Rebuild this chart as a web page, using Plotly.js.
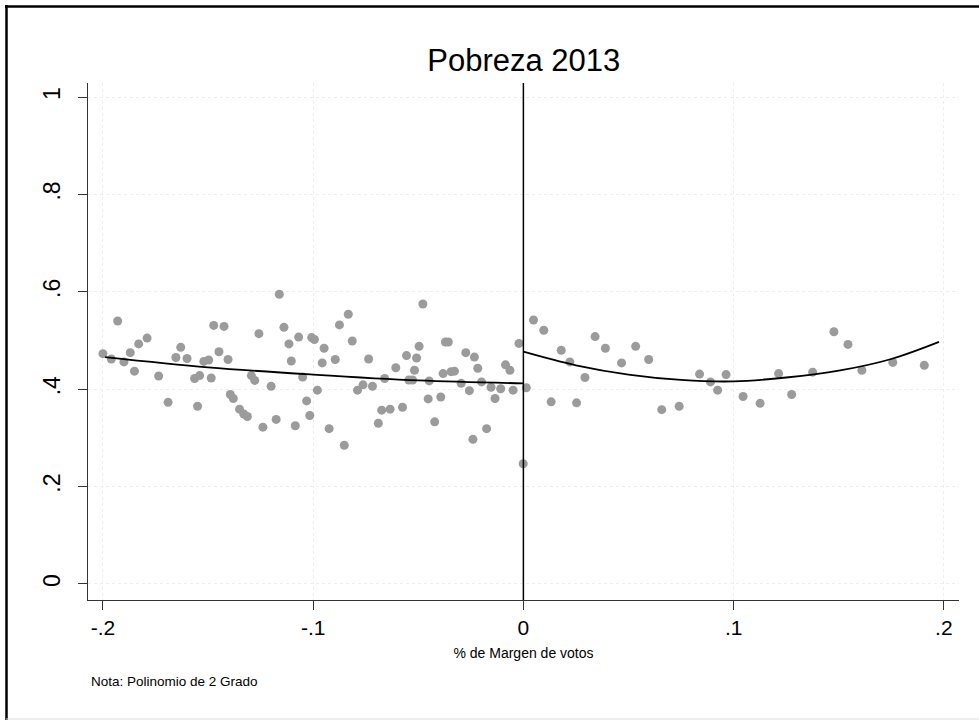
<!DOCTYPE html>
<html>
<head>
<meta charset="utf-8">
<script src="https://cdn.plot.ly/plotly-3.0.1.min.js"></script>
<style>
html,body{margin:0;padding:0;background:#fff;}
#chart{width:979px;height:722px;}
</style>
</head>
<body>
<div id="chart"></div>
<script>
// ---- data ----
const cutoff = 0;

const leftX = [-0.200,-0.193,-0.196,-0.190,-0.187,-0.185,-0.183,-0.179,-0.1735,-0.169,
  -0.1653,-0.163,-0.160,-0.1564,-0.154,-0.155,-0.152,-0.1497,-0.1485,-0.1473,
  -0.1448,-0.1424,-0.1405,-0.1394,-0.138,-0.135,-0.133,-0.1313,-0.1294,-0.1278,
  -0.1258,-0.1239,-0.120,-0.1176,-0.1161,-0.1139,-0.1115,-0.1104,-0.1085,-0.1069,
  -0.105,-0.1031,-0.1016,-0.098,-0.1007,-0.0994,-0.0948,-0.0957,-0.0924,-0.0895,
  -0.0875,-0.0852,-0.0833,-0.0814,-0.0789,-0.0763,-0.0736,-0.0718,-0.069,-0.0674,
  -0.066,-0.0634,-0.0607,-0.0575,-0.0556,-0.0545,-0.0527,-0.0518,-0.0508,-0.0496,
  -0.0478,-0.0453,-0.0448,-0.0422,-0.0393,-0.0382,-0.0371,-0.0357,-0.0344,-0.0328,
  -0.0296,-0.0274,-0.0257,-0.024,-0.0233,-0.0217,-0.0199,-0.0175,-0.0154,-0.0135,
  -0.0108,-0.0085,-0.0064,-0.0049,-0.0021,-0.0001];
const leftY = [0.473,0.540,0.462,0.456,0.475,0.437,0.493,0.505,0.427,0.373,
  0.465,0.486,0.463,0.422,0.428,0.365,0.457,0.460,0.423,0.531,
  0.477,0.529,0.461,0.389,0.381,0.359,0.349,0.344,0.428,0.418,
  0.514,0.322,0.406,0.338,0.595,0.527,0.493,0.458,0.325,0.507,
  0.425,0.376,0.346,0.398,0.506,0.502,0.484,0.454,0.319,0.461,
  0.532,0.285,0.554,0.499,0.398,0.409,0.462,0.406,0.330,0.357,
  0.422,0.359,0.444,0.363,0.469,0.419,0.419,0.439,0.464,0.488,
  0.575,0.380,0.417,0.333,0.384,0.432,0.497,0.497,0.436,0.437,
  0.412,0.475,0.397,0.297,0.466,0.443,0.415,0.319,0.404,0.381,
  0.401,0.450,0.439,0.398,0.494,0.247];

const rightX = [0.0014,0.0048,0.0097,0.0132,0.018,0.0221,0.0253,0.0293,0.0341,0.039,
  0.0467,0.0534,0.0596,0.0658,0.0741,0.0838,0.089,0.0924,0.0964,0.1045,
  0.1126,0.1214,0.1276,0.1376,0.1477,0.1544,0.161,0.1757,0.1907];
const rightY = [0.403,0.542,0.521,0.374,0.480,0.456,0.372,0.424,0.508,0.484,
  0.454,0.488,0.461,0.358,0.365,0.431,0.415,0.398,0.430,0.385,
  0.371,0.432,0.389,0.435,0.518,0.492,0.439,0.455,0.449];

// fitted 2nd-degree polynomial curves
const leftFitX = [-0.199,-0.15,-0.1,-0.05,0];
const leftFitY = [0.466,0.445,0.430,0.418,0.412];
const rightFitX = [0,0.025,0.05,0.075,0.1,0.125,0.15,0.175,0.1977];
const rightFitY = [0.477,0.449,0.430,0.419,0.416,0.424,0.438,0.462,0.497];

const xTickVals = [-0.2,-0.1,0,0.1,0.2];
const xTickText = ['-.2','-.1','0','.1','.2'];
const yTickVals = [0,0.2,0.4,0.6,0.8,1];
const yTickText = ['0','.2','.4','.6','.8','1'];

const titleText = 'Pobreza 2013';
const xTitle = '% de Margen de votos';
const noteText = 'Nota: Polinomio de 2 Grado';

// ---- chart ----
const FONT = 'Liberation Sans, Arial, Helvetica, sans-serif';
const dotColor = '#9b9b9b';

const traces = [
  {x:leftX, y:leftY, type:'scatter', mode:'markers',
   marker:{color:dotColor, size:9, line:{width:0}}, hoverinfo:'x+y'},
  {x:rightX, y:rightY, type:'scatter', mode:'markers',
   marker:{color:dotColor, size:9, line:{width:0}}, hoverinfo:'x+y'},
  {x:leftFitX, y:leftFitY, type:'scatter', mode:'lines',
   line:{color:'#000', width:1.8, shape:'spline'}},
  {x:rightFitX, y:rightFitY, type:'scatter', mode:'lines',
   line:{color:'#000', width:1.8, shape:'spline'}}
];

const layout = {
  width:979, height:722,
  margin:{l:88, r:20, t:83, b:122},
  paper_bgcolor:'#fff', plot_bgcolor:'#fff',
  showlegend:false,
  font:{family:FONT, color:'#000'},
  title:{text:titleText, font:{family:FONT, size:31, color:'#000'},
         x:0.535, xref:'container', y:1-60/722, yref:'container', yanchor:'middle', xanchor:'center'},
  xaxis:{
    range:[-0.2071,0.2072], tickvals:xTickVals, ticktext:xTickText,
    ticks:'outside', ticklen:9, tickwidth:1, tickcolor:'#333',
    tickfont:{family:FONT, size:21, color:'#000'},
    showline:true, linecolor:'#333', linewidth:1,
    showgrid:true, gridcolor:'#eeeeee', griddash:'dot', gridwidth:1,
    zeroline:false,
    title:{text:xTitle, font:{family:FONT, size:14, color:'#000'}, standoff:9}
  },
  yaxis:{
    range:[-0.0329,1.0288], tickvals:yTickVals, ticktext:yTickText,
    ticks:'outside', ticklen:9, tickwidth:1, tickcolor:'#333',
    tickangle:-90, ticklabelstandoff:9,
    tickfont:{family:FONT, size:23, color:'#000'},
    showline:true, linecolor:'#333', linewidth:1,
    showgrid:true, gridcolor:'#eeeeee', griddash:'dot', gridwidth:1,
    zeroline:false
  },
  shapes:[
    {type:'line', xref:'x', yref:'paper', x0:cutoff, x1:cutoff, y0:0, y1:1,
     line:{color:'#000', width:1.5}, layer:'above'},
    // outer frame
    {type:'line', xref:'paper', yref:'paper', x0:(5-88)/871, x1:(990-88)/871,
     y0:(600-6.5)/517, y1:(600-6.5)/517, line:{color:'#000', width:2.5}},
    {type:'line', xref:'paper', yref:'paper', x0:(6.5-88)/871, x1:(6.5-88)/871,
     y0:(600-5)/517, y1:(600-720)/517, line:{color:'#000', width:2.5}},
    {type:'line', xref:'paper', yref:'paper', x0:(6-88)/871, x1:(990-88)/871,
     y0:(600-719)/517, y1:(600-719)/517, line:{color:'#dcdcdc', width:1}}
  ],
  annotations:[
    {text:noteText, xref:'paper', yref:'paper', x:(89-88)/871, y:(600-681)/517,
     xanchor:'left', yanchor:'middle', showarrow:false,
     font:{family:FONT, size:13.5, color:'#000'}}
  ]
};

Plotly.newPlot('chart', traces, layout, {displayModeBar:false, staticPlot:true});
</script>
</body>
</html>
